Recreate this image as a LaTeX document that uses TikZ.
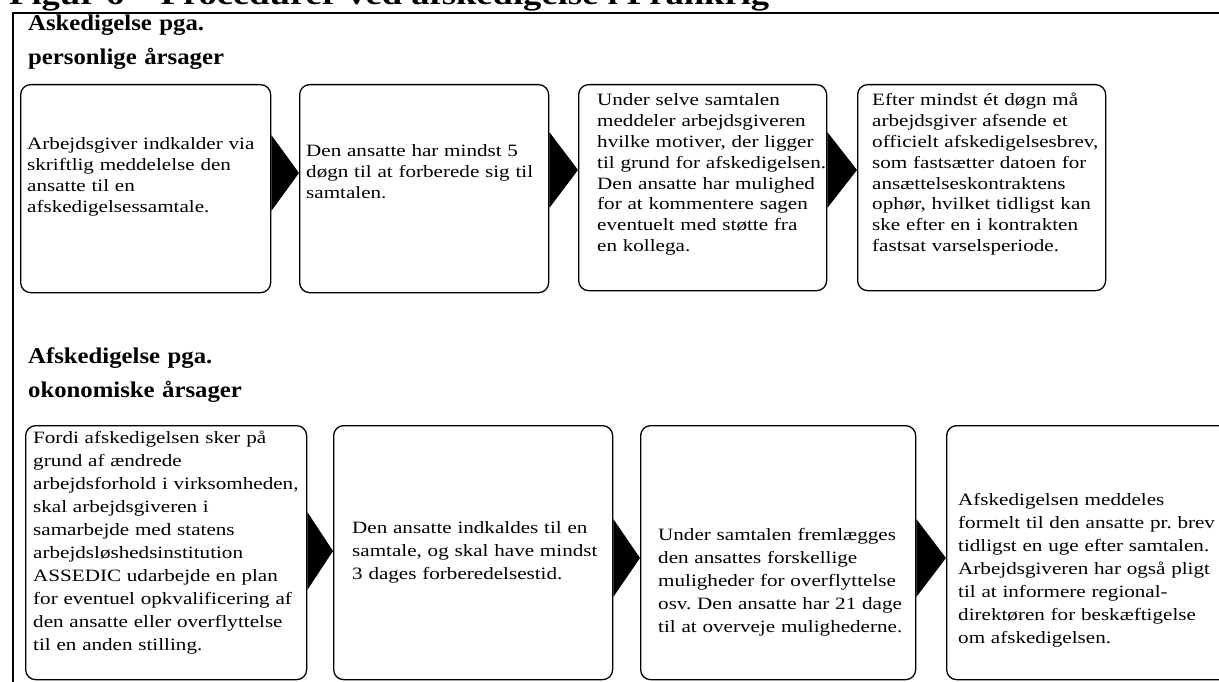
\documentclass[tikz,border=0pt]{standalone}
\usepackage{fontspec}
\setmainfont{Liberation Serif}[FakeStretch=1.22]
\newfontfamily\headfont{Liberation Serif}[FakeStretch=1.1]
\frenchspacing
\begin{document}
\begin{tikzpicture}[x=1pt,y=-1pt,
  box/.style={draw, line width=1.3pt, rounded corners=10pt, inner sep=0pt, anchor=north west},
  body/.style={anchor=base west, inner sep=0pt, align=left, text width=320pt,
               font=\fontsize{17.3}{20.8}\selectfont},
  bodylow/.style={body, font=\fontsize{17.3}{23}\selectfont},
  head/.style={anchor=base west, inner sep=0pt, align=left, text width=300pt,
               font=\headfont\fontsize{22.5}{34}\selectfont\bfseries},
  tri/.style={fill=black}]
\useasboundingbox (0,0) rectangle (1219,682);

% title line, mostly above the page
\node[anchor=base west, inner sep=0pt, font=\fontsize{30}{34}\selectfont\bfseries]
  (title) at (9,5) {Figur 6 – Procedurer ved afskedigelse i Frankrig};

% outer frame
\draw[line width=1.5pt] (13,700) -- (13,13) -- (1240,13);

% ---------- first row ----------
\node[head] (h1) at (28,31) {Askedigelse pga.\\personlige årsager};

\node[box, minimum width=250pt, minimum height=208pt] (b1) at (20,84) {};
\node[box, minimum width=249pt, minimum height=208pt] (b2) at (299,84) {};
\node[box, minimum width=248pt, minimum height=206pt] (b3) at (578,84) {};
\node[box, minimum width=248pt, minimum height=206pt] (b4) at (857,84) {};

\node[body] (t1) at (27,150) {Arbejdsgiver indkalder via\\skriftlig meddelelse den\\ansatte til en\\afskedigelsessamtale.};
\node[body] (t2) at (306,157) {Den ansatte har mindst 5\\døgn til at forberede sig til\\samtalen.};
\node[body] (t3) at (597,106) {Under selve samtalen\\meddeler arbejdsgiveren\\hvilke motiver, der ligger\\til grund for afskedigelsen.\\Den ansatte har mulighed\\for at kommentere sagen\\eventuelt med støtte fra\\en kollega.};
\node[body] (t4) at (872,106) {Efter mindst ét døgn må\\arbejdsgiver afsende et\\officielt afskedigelsesbrev,\\som fastsætter datoen for\\ansættelseskontraktens\\ophør, hvilket tidligst kan\\ske efter en i kontrakten\\fastsat varselsperiode.};

\fill[tri] (b1.east |- 0,135) -- (b2.west |- 0,173) -- (b1.east |- 0,211) -- cycle;
\fill[tri] (b2.east |- 0,132) -- (b3.west |- 0,170) -- (b2.east |- 0,208) -- cycle;
\fill[tri] (b3.east |- 0,132) -- (b4.west |- 0,170) -- (b3.east |- 0,208) -- cycle;

% ---------- second row ----------
\node[head] (h2) at (28,363) {Afskedigelse pga.\\okonomiske årsager};

\node[box, minimum width=281pt, minimum height=254pt] (b5) at (25,425) {};
\node[box, minimum width=279pt, minimum height=254pt] (b6) at (333,425) {};
\node[box, minimum width=275pt, minimum height=254pt] (b7) at (640,425) {};
\node[box, minimum width=282pt, minimum height=254pt] (b8) at (946,425) {};

\node[bodylow] (t5) at (33,443) {Fordi afskedigelsen sker på\\grund af ændrede\\arbejdsforhold i virksomheden,\\skal arbejdsgiveren i\\samarbejde med statens\\arbejdsløshedsinstitution\\ASSEDIC udarbejde en plan\\for eventuel opkvalificering af\\den ansatte eller overflyttelse\\til en anden stilling.};
\node[bodylow] (t6) at (352,533) {Den ansatte indkaldes til en\\samtale, og skal have mindst\\3 dages forberedelsestid.};
\node[bodylow] (t7) at (658,540) {Under samtalen fremlægges\\den ansattes forskellige\\muligheder for overflyttelse\\osv. Den ansatte har 21 dage\\til at overveje mulighederne.};
\node[bodylow] (t8) at (958,505) {Afskedigelsen meddeles\\formelt til den ansatte pr. brev\\tidligst en uge efter samtalen.\\Arbejdsgiveren har også pligt\\til at informere regional-\\direktøren for beskæftigelse\\om afskedigelsen.};

\fill[tri] (b5.east |- 0,512) -- (b6.west |- 0,551) -- (b5.east |- 0,590) -- cycle;
\fill[tri] (b6.east |- 0,519) -- (b7.west |- 0,558) -- (b6.east |- 0,597) -- cycle;
\fill[tri] (b7.east |- 0,519) -- (b8.west |- 0,558) -- (b7.east |- 0,597) -- cycle;
\end{tikzpicture}
\end{document}
